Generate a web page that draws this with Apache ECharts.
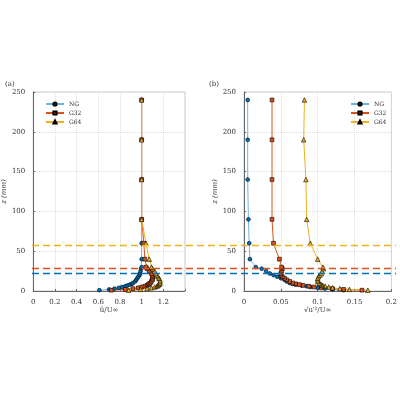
<!DOCTYPE html>
<html>
<head>
<meta charset="UTF-8">
<script src="https://cdn.jsdelivr.net/npm/echarts@6/dist/echarts.min.js"></script>
<style>html,body{margin:0;background:#fff}#chart{width:400px;height:400px}</style>
</head>
<body>
<div id="chart"></div>
<script>
const seriesNames = ['NG', 'G32', 'G64'];
const zA = [1, 2, 3, 4, 5, 6, 7, 8, 9, 10, 12, 14, 16, 18, 20, 22, 25, 28, 30, 40, 60, 90, 140, 190, 240];
const meanNG = [0.61, 0.70, 0.75, 0.79, 0.82, 0.85, 0.87, 0.89, 0.91, 0.92, 0.94, 0.95, 0.96, 0.97, 0.98, 0.985, 0.99, 0.995, 1.0, 1.0, 1.0, 1.0, 1.0, 1.0, 1.0];
const meanG32 = [0.72, 0.85, 0.92, 0.97, 1.0, 1.03, 1.05, 1.06, 1.07, 1.08, 1.09, 1.1, 1.1, 1.1, 1.1, 1.09, 1.07, 1.05, 1.04, 1.03, 1.02, 1.0, 1.0, 1.0, 1.0];
const meanG64 = [0.88, 0.99, 1.05, 1.09, 1.12, 1.14, 1.15, 1.16, 1.165, 1.17, 1.17, 1.17, 1.16, 1.15, 1.14, 1.13, 1.12, 1.1, 1.09, 1.07, 1.04, 1.0, 1.0, 1.0, 1.0];
const rmsNG = [0.135, 0.12, 0.11, 0.1, 0.09, 0.085, 0.078, 0.07, 0.066, 0.062, 0.058, 0.055, 0.05, 0.045, 0.04, 0.035, 0.03, 0.024, 0.016, 0.008, 0.007, 0.006, 0.005, 0.005, 0.005];
const rmsG32 = [0.16, 0.135, 0.12, 0.105, 0.095, 0.088, 0.08, 0.075, 0.07, 0.066, 0.062, 0.058, 0.055, 0.052, 0.05, 0.05, 0.051, 0.052, 0.051, 0.048, 0.04, 0.038, 0.038, 0.038, 0.038];
const rmsG64 = [0.168, 0.143, 0.13, 0.12, 0.115, 0.11, 0.107, 0.105, 0.103, 0.102, 0.1, 0.1, 0.1, 0.101, 0.103, 0.105, 0.106, 0.108, 0.107, 0.1, 0.09, 0.085, 0.084, 0.081, 0.082];
const bandLevels = [58, 28, 22];
const bandColors = ['#edb120', '#d95319', '#0072bd'];

const markerColors = ['#0072bd', '#d95319', '#edb120'];
const lineColors = ['#6fb3e6', '#d95319', '#edb120'];
const symbols = ['circle', 'rect', 'triangle'];
const font = 'DejaVu Serif';

function pairs(xs) { return xs.map((v, i) => [v, zA[i]]); }
function mkSeries(idx, arrs) {
  return arrs.map((a, i) => ({
    name: seriesNames[i], type: 'line', xAxisIndex: idx, yAxisIndex: idx,
    data: pairs(a), symbol: symbols[i], symbolSize: i === 2 ? 4.5 : 3.8,
    lineStyle: { color: lineColors[i], width: 1 },
    itemStyle: { color: markerColors[i], borderColor: '#000', borderWidth: 0.6 }
  }));
}
const axisLab = { fontFamily: font, fontSize: 7, color: '#333' };
const split = { show: true, lineStyle: { type: 'dotted', color: '#ddd' } };
function yAx(idx, show) {
  return { type: 'value', gridIndex: idx, min: 0, max: 250, interval: 50, show: show,
    name: show ? 'z (mm)' : '', nameLocation: 'middle', nameGap: 18,
    nameTextStyle: { fontFamily: font, fontSize: 7, fontStyle: 'italic', color: '#333' },
    axisLabel: axisLab, axisLine: { show: true, lineStyle: { color: '#666' } },
    axisTick: { length: 2, inside: true }, splitLine: split };
}
const lineData = bandLevels.map((l, i) => ({ yAxis: l, lineStyle: { color: bandColors[i], type: [7, 4], width: 1.3 } }));

const option = {
  animation: false,
  textStyle: { fontFamily: font },
  grid: [
    { left: 32, top: 92, width: 153, height: 199, show: true, borderColor: '#999', borderWidth: 0.5 },
    { left: 244, top: 92, width: 152, height: 199, show: true, borderColor: '#999', borderWidth: 0.5 },
    { left: 32, top: 92, right: 4, height: 199 }
  ],
  xAxis: [
    { type: 'value', gridIndex: 0, min: 0, max: 1.4, interval: 0.2, name: 'ū/U∞', nameLocation: 'middle', nameGap: 14,
      nameTextStyle: { fontFamily: font, fontSize: 7, color: '#333' },
      axisLabel: { ...axisLab, formatter: v => v > 1.3 ? '' : String(Math.round(v * 10) / 10) },
      axisLine: { lineStyle: { color: '#666' } }, axisTick: { length: 2, inside: true }, splitLine: split },
    { type: 'value', gridIndex: 1, min: 0, max: 0.2, interval: 0.05, name: '√u′²/U∞', nameLocation: 'middle', nameGap: 14,
      nameTextStyle: { fontFamily: font, fontSize: 7, color: '#333' },
      axisLabel: axisLab, axisLine: { lineStyle: { color: '#666' } }, axisTick: { length: 2, inside: true }, splitLine: split },
    { type: 'value', gridIndex: 2, min: 0, max: 1, show: false }
  ],
  yAxis: [yAx(0, true), yAx(1, true), yAx(2, false)],
  legend: [
    { data: seriesNames, orient: 'vertical', left: 40, top: 96, itemWidth: 18, itemHeight: 4, itemGap: 3,
      textStyle: { fontFamily: font, fontSize: 6, color: '#333' } },
    { data: seriesNames, orient: 'vertical', left: 345, top: 96, itemWidth: 18, itemHeight: 4, itemGap: 3,
      textStyle: { fontFamily: font, fontSize: 6, color: '#333' } }
  ],
  title: [
    { text: '(a)', left: 0, top: 76, textStyle: { fontFamily: font, fontSize: 7, fontWeight: 'normal', color: '#333' } },
    { text: '(b)', left: 204, top: 76, textStyle: { fontFamily: font, fontSize: 7, fontWeight: 'normal', color: '#333' } }
  ],
  series: [
    ...mkSeries(0, [meanNG, meanG32, meanG64]),
    ...mkSeries(1, [rmsNG, rmsG32, rmsG64]),
    { type: 'line', xAxisIndex: 2, yAxisIndex: 2, data: [], silent: true,
      markLine: { symbol: 'none', label: { show: false }, data: lineData } }
  ]
};
echarts.init(document.getElementById('chart')).setOption(option);
</script>
</body>
</html>
